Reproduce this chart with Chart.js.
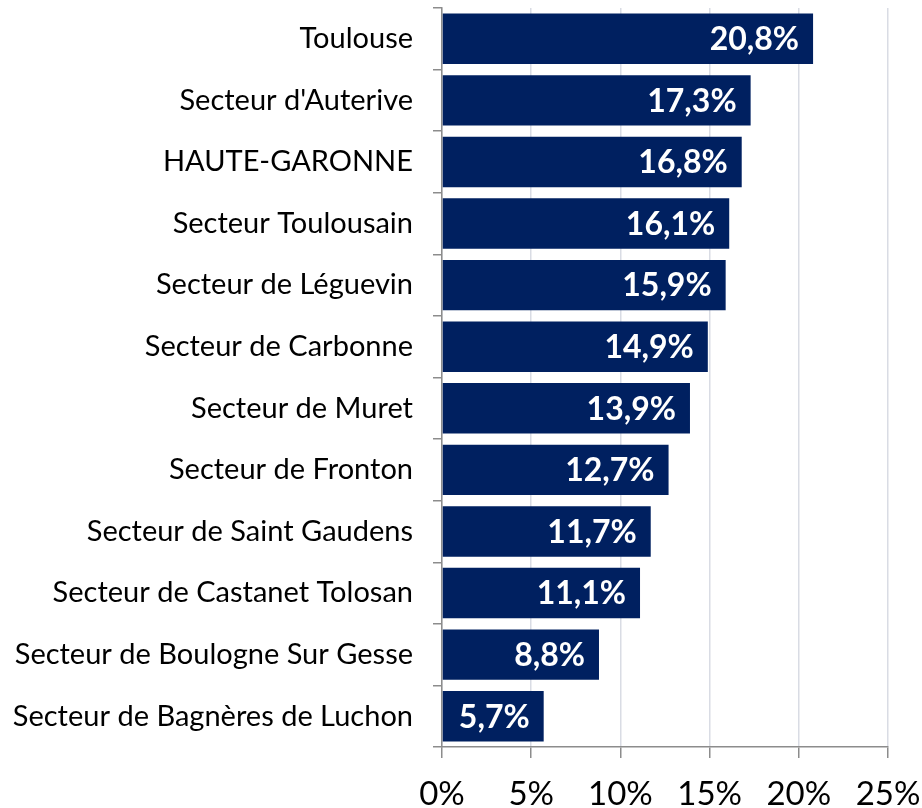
<!DOCTYPE html>
<html>
<head>
<meta charset="utf-8">
<script src="https://cdn.jsdelivr.net/npm/chart.js@4.4.0/dist/chart.umd.min.js"></script>
<style>
html,body{margin:0;padding:0;background:#fff;}
#wrap{width:922px;height:808px;position:relative;}
</style>
</head>
<body>
<div id="wrap"><canvas id="c" width="922" height="808"></canvas></div>
<script>
const categories = [
  "Toulouse",
  "Secteur d'Auterive",
  "HAUTE-GARONNE",
  "Secteur Toulousain",
  "Secteur de Léguevin",
  "Secteur de Carbonne",
  "Secteur de Muret",
  "Secteur de Fronton",
  "Secteur de Saint Gaudens",
  "Secteur de Castanet Tolosan",
  "Secteur de Boulogne Sur Gesse",
  "Secteur de Bagnères de Luchon"
];
const values = [20.8, 17.3, 16.8, 16.1, 15.9, 14.9, 13.9, 12.7, 11.7, 11.1, 8.8, 5.7];
const xTickValues = [0, 5, 10, 15, 20, 25];

const FONT = "Lato, 'Liberation Sans', sans-serif";

const dataLabels = {
  id: 'dataLabels',
  afterDatasetsDraw(chart) {
    const ctx = chart.ctx;
    const meta = chart.getDatasetMeta(0);
    ctx.save();
    ctx.fillStyle = '#ffffff';
    ctx.font = "bold 32px " + FONT;
    ctx.textAlign = 'right';
    ctx.textBaseline = 'middle';
    meta.data.forEach((bar, i) => {
      const txt = values[i].toFixed(1).replace('.', ',') + '%';
      ctx.fillText(txt, bar.x - 14, bar.y + 1);
    });
    ctx.restore();
  }
};

new Chart(document.getElementById('c'), {
  type: 'bar',
  data: {
    labels: categories,
    datasets: [{
      data: values,
      backgroundColor: '#002060',
      borderWidth: 0,
      barPercentage: 0.82,
      categoryPercentage: 1.0
    }]
  },
  options: {
    indexAxis: 'y',
    responsive: false,
    animation: false,
    layout: { padding: { top: 8, right: 34, left: 0, bottom: 0 } },
    plugins: { legend: { display: false }, tooltip: { enabled: false } },
    scales: {
      x: {
        min: 0, max: 25,
        afterBuildTicks(scale) { scale.ticks = xTickValues.map(v => ({ value: v })); },
        afterFit(scale) {
          scale.height = 61;
          scale.paddingLeft = 0; scale.paddingRight = 0;
        },
        ticks: {
          callback: v => v + '%',
          font: { family: FONT, size: 33 },
          color: '#000000',
          padding: 17,
          maxRotation: 0
        },
        grid: {
          color: '#d9dce4',
          lineWidth: 1.5,
          tickLength: 11,
          tickColor: '#8c8c8c',
          drawTicks: true
        },
        border: { color: '#8c8c8c', width: 1.5 }
      },
      y: {
        afterFit(scale) {
          scale.width = 442;
          scale.paddingTop = 0; scale.paddingBottom = 0;
        },
        ticks: {
          font: { family: FONT, size: 29 },
          color: '#000000',
          padding: 20
        },
        grid: {
          drawOnChartArea: false,
          offset: true,
          tickLength: 9,
          tickColor: '#8c8c8c',
          lineWidth: 1.5
        },
        border: { color: '#8c8c8c', width: 1.5 }
      }
    }
  },
  plugins: [dataLabels]
});
</script>
</body>
</html>
